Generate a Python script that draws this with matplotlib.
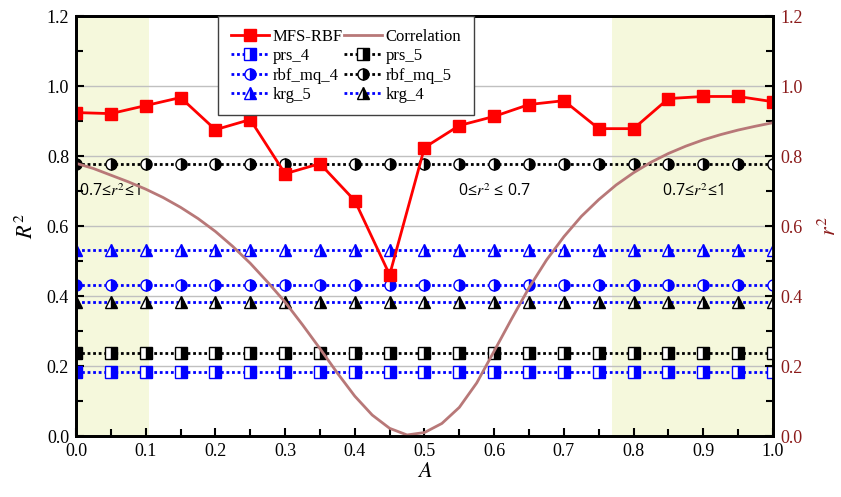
import matplotlib
matplotlib.use('Agg')
import matplotlib.pyplot as plt
from matplotlib.ticker import MultipleLocator

plt.rcParams['font.family'] = 'Liberation Serif'
plt.rcParams['mathtext.fontset'] = 'stix'

# data
A = [0.0, 0.05, 0.1, 0.15, 0.2, 0.25, 0.3, 0.35, 0.4, 0.45, 0.5,
     0.55, 0.6, 0.65, 0.7, 0.75, 0.8, 0.85, 0.9, 0.95, 1.0]
mfs_rbf = [0.925, 0.922, 0.945, 0.968, 0.876, 0.905, 0.750, 0.779, 0.673, 0.461, 0.825,
           0.888, 0.914, 0.948, 0.959, 0.879, 0.879, 0.965, 0.971, 0.971, 0.956]
prs_4 = [0.182] * len(A)
prs_5 = [0.237] * len(A)
rbf_mq_4 = [0.431] * len(A)
rbf_mq_5 = [0.778] * len(A)
krg_5 = [0.533] * len(A)
krg_4 = [0.383] * len(A)

corr_A = [0.0, 0.025, 0.05, 0.075, 0.1, 0.125, 0.15, 0.175, 0.2, 0.225, 0.25, 0.275,
          0.3, 0.325, 0.35, 0.375, 0.4, 0.425, 0.45, 0.475, 0.5, 0.525, 0.55, 0.575,
          0.6, 0.625, 0.65, 0.675, 0.7, 0.725, 0.75, 0.775, 0.8, 0.825, 0.85, 0.875,
          0.9, 0.925, 0.95, 0.975, 1.0]
corr_r2 = [0.780, 0.765, 0.746, 0.727, 0.706, 0.682, 0.654, 0.622, 0.585, 0.542, 0.494, 0.440,
           0.383, 0.318, 0.250, 0.180, 0.114, 0.060, 0.022, 0.003, 0.010, 0.036, 0.082, 0.152,
           0.243, 0.335, 0.424, 0.503, 0.570, 0.628, 0.676, 0.718, 0.753, 0.783, 0.808, 0.829,
           0.847, 0.862, 0.875, 0.886, 0.896]

dark_red = '#8b1a1a'
shade = '#f5f8dc'

fig = plt.figure(figsize=(8.41, 4.97), dpi=100)
ax = fig.add_axes([0.0904, 0.1227, 0.8287, 0.8443])
ax2 = ax.twinx()

# shaded regions
ax.axvspan(0.0, 0.105, color=shade, lw=0, zorder=0)
ax.axvspan(0.769, 1.0, color=shade, lw=0, zorder=0)

for y in [0.2, 0.4, 0.6, 0.8, 1.0]:
    ax.axhline(y, color='#c0c0c0', lw=1, zorder=1)

ms = 8
def flat(ax_, vals, lc, mc, marker, label):
    return ax_.plot(A, vals, ls=(0, (1, 1)), lw=2, color=lc, marker=marker, ms=ms,
                    mec=mc, mfc=mc, mfcalt='white', fillstyle='right', mew=1,
                    label=label, zorder=3)[0]

h_prs4 = flat(ax, prs_4, 'blue', 'blue', 's', 'prs_4')
h_prs5 = flat(ax, prs_5, 'black', 'black', 's', 'prs_5')
h_rbf4 = flat(ax, rbf_mq_4, 'blue', 'blue', 'o', 'rbf_mq_4')
h_rbf5 = flat(ax, rbf_mq_5, 'black', 'black', 'o', 'rbf_mq_5')
h_krg5 = flat(ax, krg_5, 'blue', 'blue', '^', 'krg_5')
h_krg4 = flat(ax, krg_4, 'blue', 'black', '^', 'krg_4')

h_mfs, = ax.plot(A, mfs_rbf, color='red', lw=2, marker='s', ms=8.5, label='MFS-RBF', zorder=4)
h_corr, = ax2.plot(corr_A, corr_r2, color='#b87878', lw=2, label='Correlation')

ax.set_xlim(0, 1.0)
ax.set_ylim(0, 1.2)
ax2.set_ylim(0, 1.2)
ax.xaxis.set_major_locator(MultipleLocator(0.1))
ax.xaxis.set_minor_locator(MultipleLocator(0.05))
ax.yaxis.set_major_locator(MultipleLocator(0.2))
ax.yaxis.set_minor_locator(MultipleLocator(0.1))
ax2.yaxis.set_major_locator(MultipleLocator(0.2))
ax2.yaxis.set_minor_locator(MultipleLocator(0.1))

for a in (ax, ax2):
    a.tick_params(which='both', direction='in', width=1.5, labelsize=13, pad=5)
    a.tick_params(which='major', length=6)
    a.tick_params(which='minor', length=5)
    for s in a.spines.values():
        s.set_linewidth(2)
ax2.tick_params(labelcolor=dark_red)
ax.xaxis.set_major_formatter(lambda v, p: f'{v:.1f}')
ax.yaxis.set_major_formatter(lambda v, p: f'{v:.1f}')
ax2.yaxis.set_major_formatter(lambda v, p: f'{v:.1f}')

ax.set_xlabel('$A$', fontsize=16, labelpad=2)
ax.set_ylabel('$R^2$', fontsize=16, labelpad=6)
ax2.set_ylabel('$r^2$', fontsize=16, color=dark_red, labelpad=12)

ann = dict(family='Open Sans', fontsize=11.5, va='center')
ax.text(0.004, 0.7, '0.7≤$r^2$≤1', ha='left', **ann)
ax.text(0.6, 0.7, '0≤$r^2$ ≤ 0.7', ha='center', **ann)
ax.text(0.885, 0.7, '0.7≤$r^2$≤1', ha='center', **ann)

handles = [h_mfs, h_prs4, h_rbf4, h_krg5, h_corr, h_prs5, h_rbf5, h_krg4]
leg = ax2.legend(handles=handles, ncol=2, loc='upper left', bbox_to_anchor=(0.204, 1.0),
                 fontsize=12, frameon=True, fancybox=False, edgecolor='#404040',
                 framealpha=1, handlelength=2.3, handletextpad=0.2, columnspacing=0.1,
                 labelspacing=0.2, borderpad=0.75, borderaxespad=0)
leg.get_frame().set_linewidth(1)

fig.savefig('out.png', dpi=100)
